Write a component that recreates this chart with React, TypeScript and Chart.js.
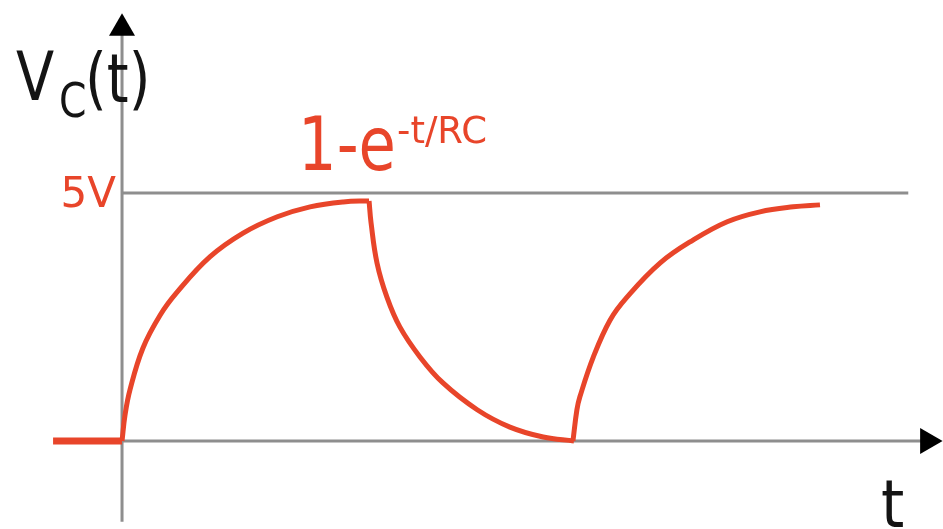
import React, { useEffect, useRef } from "react";
import { Chart, registerables } from "chart.js";

Chart.register(...registerables);

// time in units of ~RC, voltage in volts
const leadT = [-1.39, 0];
const leadV = [0, 0];

const chargeT = [0, 0.06, 0.16, 0.42, 0.77, 1.11, 1.77, 2.44, 3.13, 3.79, 4.46, 4.98];
const chargeV = [0, 0.52, 1.03, 1.87, 2.54, 3.0, 3.71, 4.19, 4.52, 4.72, 4.82, 4.84];

const dischargeT = [4.98, 5.02, 5.14, 5.34, 5.6, 6.01, 6.47, 7.16, 7.82, 8.49, 9.11];
const dischargeV = [4.84, 4.4, 3.59, 2.9, 2.3, 1.69, 1.17, 0.63, 0.28, 0.08, 0.0];

const rechargeT = [9.09, 9.17, 9.23, 9.5, 9.84, 10.18, 10.85, 11.51, 12.2, 12.86, 13.53, 14.07];
const rechargeV = [0.0, 0.63, 0.89, 1.69, 2.44, 2.9, 3.59, 4.05, 4.42, 4.62, 4.72, 4.76];

const supplyLevel = 5;
const supplyLineT = [0, 15.85];
const xAxisT = [0, 16.3];
const yAxisV = [-1.63, 8.3];
const xArrow = [{ x: 16.24, y: 0 }];
const yArrow = [{ x: 0, y: 8.32 }];

const tickLabel = "5V";
const formulaMain = "1-e";
const formulaSup = "-t/RC";
const axisLabelMain = "V";
const axisLabelSub = "C";
const axisLabelTail = "(t)";
const timeLabel = "t";

const RED = "#E8452A";
const GRAY = "#8e8e8e";
const FONT = "'DejaVu Sans', Verdana, sans-serif";

const pts = (xs: number[], ys: number[]) => xs.map((x, i) => ({ x, y: ys[i] }));

function drawText(
  ctx: CanvasRenderingContext2D,
  text: string,
  x: number,
  y: number,
  size: number,
  color: string,
  align: CanvasTextAlign = "left",
  sx = 0.82
) {
  ctx.save();
  ctx.translate(x, y);
  ctx.scale(sx, 1);
  ctx.font = `${size}px ${FONT}`;
  ctx.fillStyle = color;
  ctx.textAlign = align;
  ctx.textBaseline = "alphabetic";
  ctx.fillText(text, 0, 0);
  ctx.restore();
}

const textPlugin = {
  id: "labels",
  afterDatasetsDraw(chart: any) {
    const ctx = chart.ctx as CanvasRenderingContext2D;
    const xs = chart.scales.x;
    const ys = chart.scales.y;
    const x0 = xs.getPixelForValue(0);
    const y0 = ys.getPixelForValue(0);
    const y5 = ys.getPixelForValue(supplyLevel);
    // 5V tick label
    drawText(ctx, tickLabel, x0 - 6, y5 + 14, 42, RED, "right", 1.0);
    // axis label V_C(t)
    drawText(ctx, axisLabelMain, x0 - 106, y5 - 93, 68, "#141414");
    drawText(ctx, axisLabelSub, x0 - 63, y5 - 76, 48, "#141414");
    drawText(ctx, axisLabelTail, x0 - 37, y5 - 91, 68, "#141414");
    // formula
    drawText(ctx, formulaMain, x0 + 176, y5 - 23, 74, RED);
    drawText(ctx, formulaSup, x0 + 275, y5 - 50, 37, RED, "left", 1.0);
    // time label
    drawText(ctx, timeLabel, xs.getPixelForValue(15.3), y0 + 86, 66, "#141414", "left", 0.9);
  },
};

export default function App() {
  const ref = useRef<HTMLCanvasElement | null>(null);
  useEffect(() => {
    if (!ref.current) return;
    const redLine = (data: any, width = 5) => ({
      type: "line" as const,
      data,
      borderColor: RED,
      borderWidth: width,
      pointRadius: 0,
      fill: false,
      tension: 0.4,
      borderJoinStyle: "round" as const,
      clip: false as any,
      order: 0,
    });
    const grayLine = (data: any, width = 3) => ({
      type: "line" as const,
      data,
      borderColor: GRAY,
      borderWidth: width,
      pointRadius: 0,
      fill: false,
      tension: 0,
      clip: false as any,
      order: 2,
    });
    const chart = new Chart(ref.current, {
      type: "line",
      data: {
        datasets: [
          redLine(pts(leadT, leadV), 7),
          redLine(pts(chargeT, chargeV)),
          redLine(pts(dischargeT, dischargeV)),
          redLine(pts(rechargeT, rechargeV)),
          grayLine(pts(xAxisT, [0, 0])),
          grayLine(pts([0, 0], yAxisV)),
          grayLine(pts(supplyLineT, [supplyLevel, supplyLevel])),
          {
            type: "scatter" as const,
            data: xArrow,
            pointStyle: "triangle",
            rotation: 90,
            pointRadius: 15,
            backgroundColor: "#000",
            borderWidth: 0,
            clip: false as any,
            order: 1,
          } as any,
          {
            type: "scatter" as const,
            data: yArrow,
            pointStyle: "triangle",
            rotation: 0,
            pointRadius: 15,
            backgroundColor: "#000",
            borderWidth: 0,
            clip: false as any,
            order: 1,
          } as any,
        ],
      },
      options: {
        animation: false,
        responsive: false,
        events: [],
        layout: { padding: 0, autoPadding: false },
        plugins: { legend: { display: false }, tooltip: { enabled: false }, title: { display: false } },
        scales: {
          x: { type: "linear", min: -2.46, max: 16.55, display: false },
          y: { type: "linear", min: -1.774, max: 8.89, display: false },
        },
      },
      plugins: [textPlugin],
    });
    return () => chart.destroy();
  }, []);
  return (
    <div style={{ position: "fixed", left: 0, top: 0, width: 943, height: 529, background: "#fff" }}>
      <canvas ref={ref} width={943} height={529} />
    </div>
  );
}
